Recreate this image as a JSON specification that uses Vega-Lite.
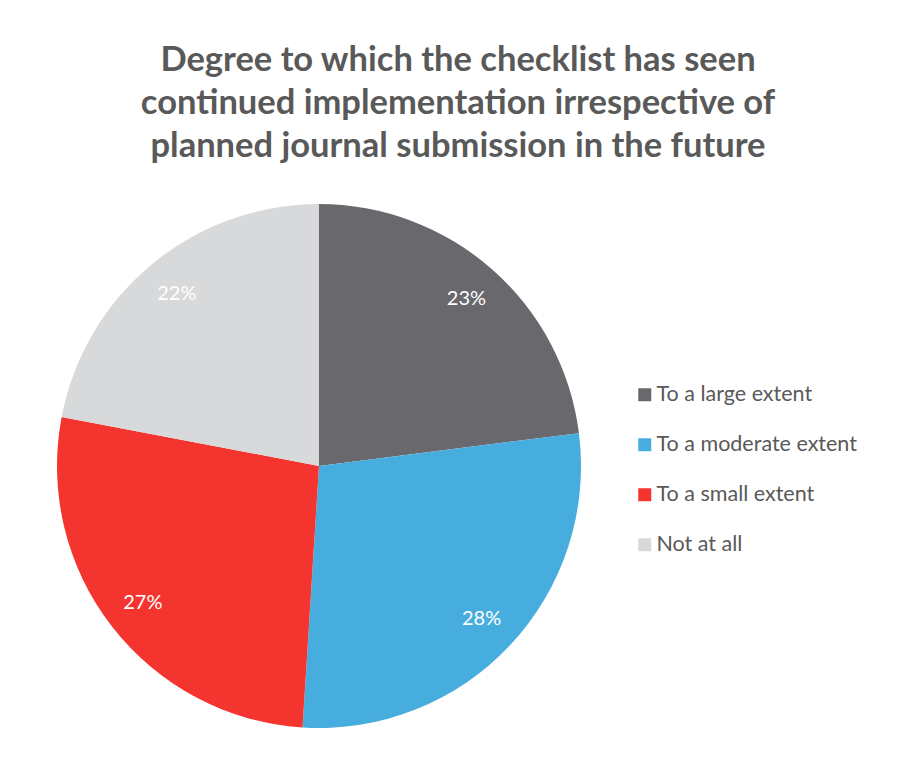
{
  "$schema": "https://vega.github.io/schema/vega-lite/v6.json",
  "autosize": "none",
  "width": 524,
  "height": 524,
  "padding": {"left": 57, "top": 204, "right": 325, "bottom": 29},
  "background": "white",
  "title": {
    "text": ["Degree to which the checklist has seen", "continued implementation irrespective of", "planned journal submission in the future"],
    "font": "Lato",
    "fontSize": 34.5,
    "fontWeight": "bold",
    "color": "#595959",
    "lineHeight": 43,
    "anchor": "middle",
    "frame": "group",
    "dx": 139,
    "offset": 40
  },
  "config": {"view": {"stroke": null}},
  "data": {
    "values": [
      {"category": "To a large extent", "pct": 23, "label": "23%", "ord": 1},
      {"category": "To a moderate extent", "pct": 28, "label": "28%", "ord": 2},
      {"category": "To a small extent", "pct": 27, "label": "27%", "ord": 3},
      {"category": "Not at all", "pct": 22, "label": "22%", "ord": 4}
    ]
  },
  "encoding": {
    "theta": {"field": "pct", "type": "quantitative", "stack": true},
    "order": {"field": "ord", "type": "quantitative"}
  },
  "layer": [
    {
      "mark": {"type": "arc"},
      "encoding": {
        "color": {
          "field": "category",
          "type": "nominal",
          "sort": null,
          "scale": {
            "domain": ["To a large extent", "To a moderate extent", "To a small extent", "Not at all"],
            "range": ["#69696D", "#47ADDF", "#F4352F", "#D8D9DB"]
          },
          "legend": {
            "title": null,
            "orient": "none",
            "legendX": 577,
            "legendY": 180,
            "symbolType": "square",
            "symbolSize": 169,
            "symbolStrokeWidth": 0,
            "labelFont": "Lato",
            "labelFontSize": 21.5,
            "labelColor": "#595959",
            "labelOffset": 1,
            "labelLimit": 400,
            "rowPadding": 27,
            "padding": 0
          }
        }
      }
    },
    {
      "mark": {"type": "text", "radius": 223, "font": "Lato", "fontSize": 20, "color": "white"},
      "encoding": {
        "text": {"field": "label", "type": "nominal"}
      }
    }
  ]
}
